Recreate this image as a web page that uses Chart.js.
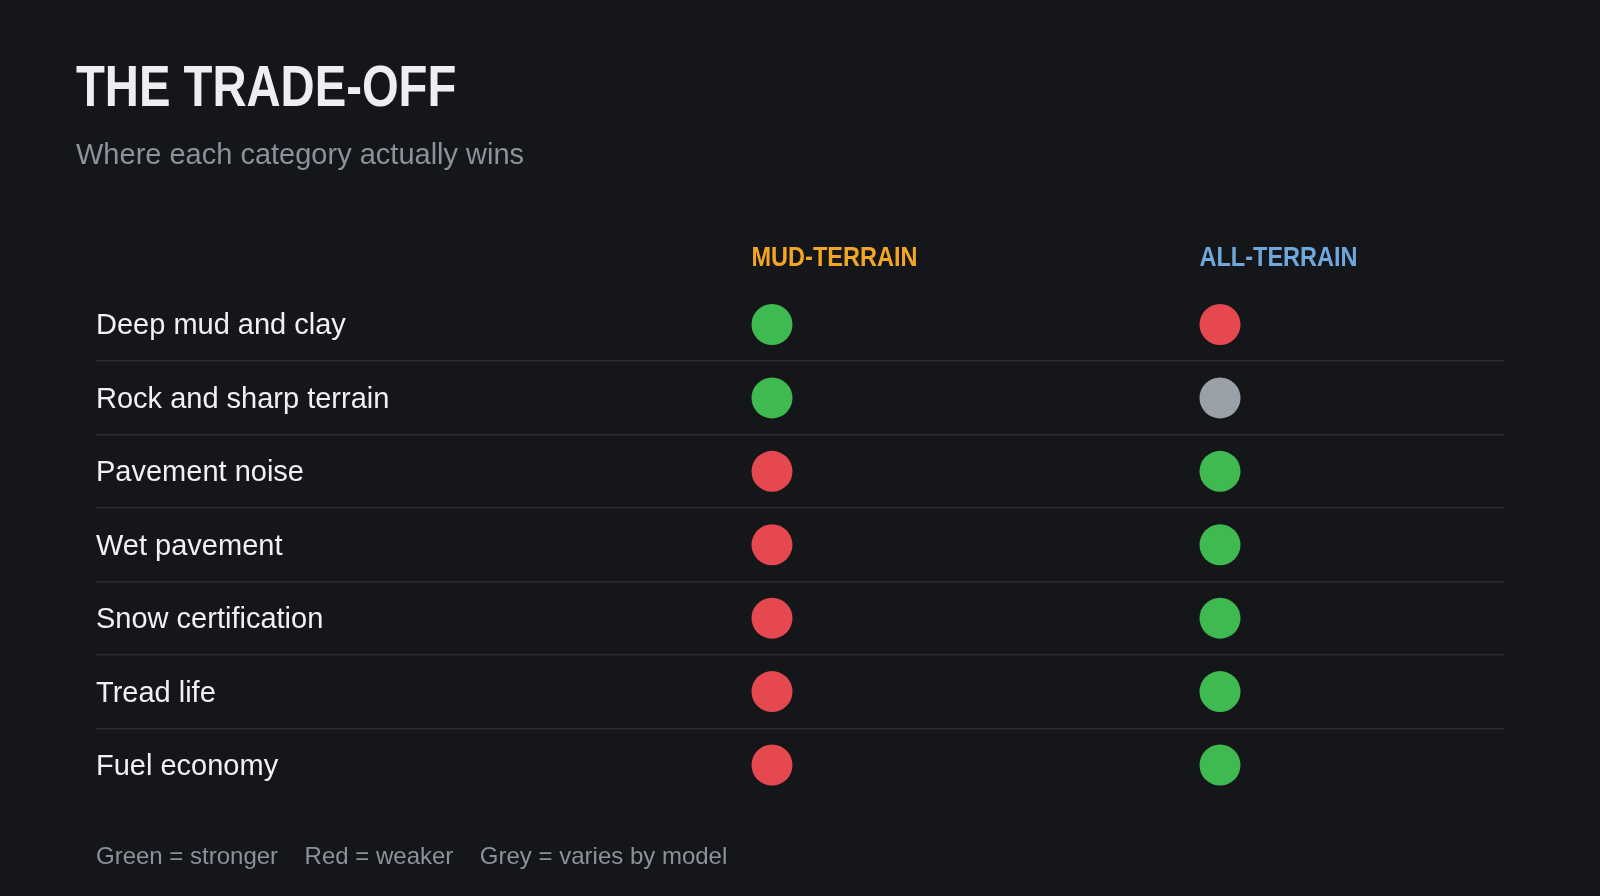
<!DOCTYPE html>
<html>
<head>
<meta charset="utf-8">
<script src="https://cdn.jsdelivr.net/npm/chart.js@4"></script>
<style>
  html, body { margin: 0; padding: 0; background: #15161a; }
  #wrap { position: relative; width: 1600px; height: 896px; overflow: hidden; }
  #grafico { position: absolute; left: 0; top: 0; }
</style>
</head>
<body>
<div id="wrap">
  <canvas id="grafico" width="1600" height="896"></canvas>
</div>
<script>
// Linhas da tabela
const caracteristicas = [
  'Deep mud and clay',
  'Rock and sharp terrain',
  'Pavement noise',
  'Wet pavement',
  'Snow certification',
  'Tread life',
  'Fuel economy'
];

// Colunas
const colunas = ['MUD-TERRAIN', 'ALL-TERRAIN'];

// Resultado de cada categoria por linha
const mudTerrain = ['stronger', 'stronger', 'weaker', 'weaker', 'weaker', 'weaker', 'weaker'];
const allTerrain = ['weaker', 'varies', 'stronger', 'stronger', 'stronger', 'stronger', 'stronger'];

// Textos
const titulo = 'THE TRADE-OFF';
const subtitulo = 'Where each category actually wins';
const legenda = ['Green = stronger', 'Red = weaker', 'Grey = varies by model'];

const coresStatus = { stronger: '#3fba51', weaker: '#e5484e', varies: '#9aa0a8' };
const coresColuna = ['#f5a524', '#6fa8dc'];
const raio = 20.5;
const fonteSans = '"Liberation Sans", Arial, sans-serif';

function montarPontos(valores, col) {
  return valores.map((v, i) => ({ x: col, y: caracteristicas[i], status: v }));
}

// texto "condensado" (não há fonte narrow instalada)
function textoEstreito(ctx, texto, x, y, escala) {
  ctx.save();
  ctx.translate(x, y);
  ctx.scale(escala, 1);
  ctx.fillText(texto, 0, 0);
  ctx.restore();
}

// Título, subtítulo, cabeçalhos e legenda
const textos = {
  id: 'textos',
  afterDraw(chart) {
    const ctx = chart.ctx;
    const x = chart.scales.x;
    ctx.save();
    ctx.textAlign = 'left';
    ctx.textBaseline = 'alphabetic';

    ctx.font = 'bold 58px ' + fonteSans;
    ctx.fillStyle = '#eceef1';
    textoEstreito(ctx, titulo, 76, 106, 0.814);

    ctx.font = '29px ' + fonteSans;
    ctx.fillStyle = '#8b929c';
    ctx.fillText(subtitulo, 76, 164);

    ctx.font = 'bold 28px ' + fonteSans;
    colunas.forEach((nome, i) => {
      ctx.fillStyle = coresColuna[i];
      textoEstreito(ctx, nome, x.getPixelForValue(i) - raio, 266, 0.84);
    });

    ctx.font = '24px ' + fonteSans;
    ctx.fillStyle = '#8b929c';
    let lx = chart.chartArea.left;
    legenda.forEach(t => {
      ctx.fillText(t, lx, 864);
      lx += ctx.measureText(t).width + 26.5;
    });
    ctx.restore();
  }
};

const ctx = document.getElementById('grafico').getContext('2d');
new Chart(ctx, {
  type: 'scatter',
  data: {
    datasets: [
      { label: colunas[0], data: montarPontos(mudTerrain, 0) },
      { label: colunas[1], data: montarPontos(allTerrain, 1) }
    ]
  },
  options: {
    responsive: false,
    animation: false,
    layout: { autoPadding: false, padding: { left: 96, right: 96, top: 287.75, bottom: 94.25 } },
    elements: {
      point: {
        radius: raio,
        hoverRadius: raio,
        borderWidth: 0,
        backgroundColor: c => coresStatus[c.raw ? c.raw.status : 'varies']
      }
    },
    plugins: {
      legend: { display: false },
      tooltip: { enabled: false }
    },
    scales: {
      x: {
        type: 'linear',
        display: false,
        min: -1.5089,
        max: 1.6339
      },
      y: {
        type: 'category',
        labels: caracteristicas,
        offset: true,
        border: { display: false },
        grid: {
          offset: true,
          drawTicks: false,
          lineWidth: 1.5,
          color: c => (c.type !== 'tick' || c.index === 0) ? 'rgba(0,0,0,0)' : '#2a2c32'
        },
        ticks: {
          mirror: true,
          padding: 0,
          labelOffset: 2,
          color: '#f0f1f3',
          font: { family: fonteSans, size: 29 }
        }
      }
    }
  },
  plugins: [textos]
});
</script>
</body>
</html>
